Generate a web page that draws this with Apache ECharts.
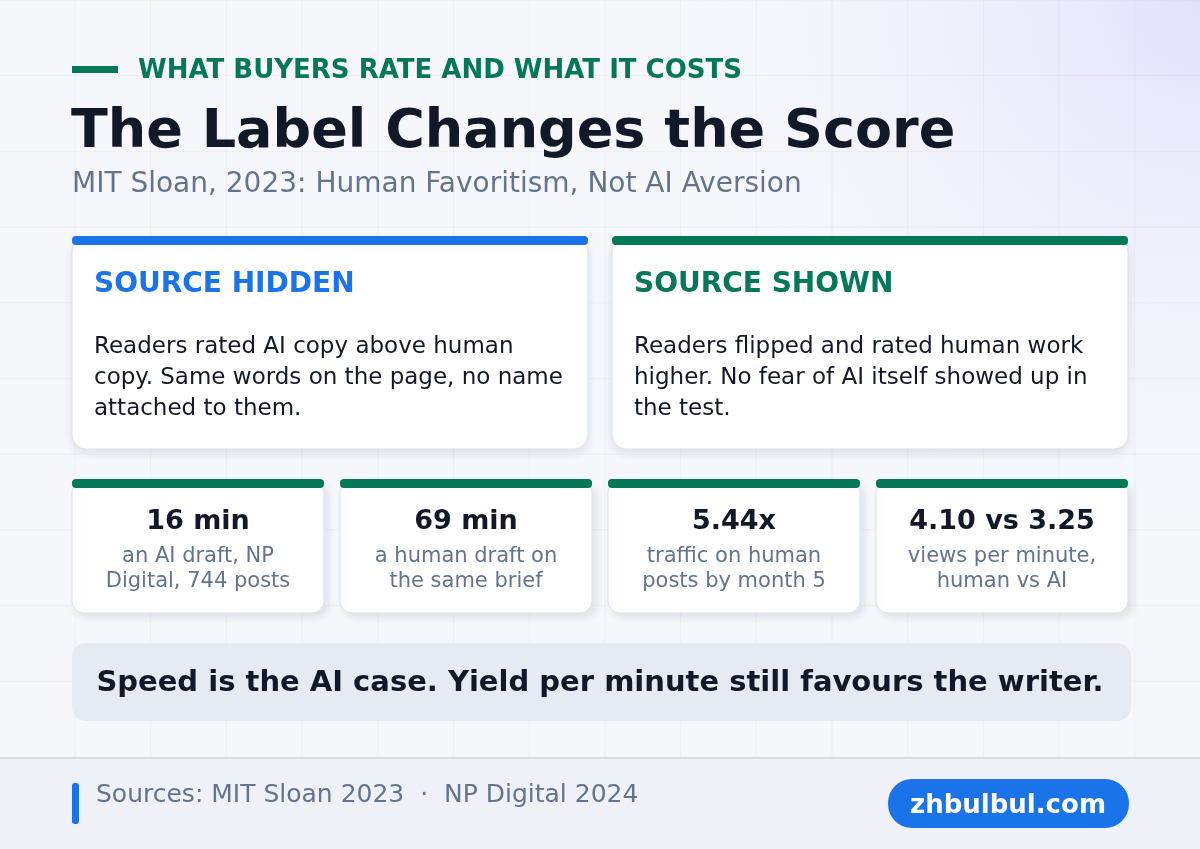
<!DOCTYPE html>
<html><head><meta charset="utf-8">
<script src="https://cdn.jsdelivr.net/npm/echarts@6/dist/echarts.min.js"></script>
<style>html,body{margin:0;padding:0;}#c{width:1200px;height:849px;}</style>
</head><body><div id="c"></div>
<script>
const kicker = "WHAT BUYERS RATE AND WHAT IT COSTS";
const title = "The Label Changes the Score";
const subtitle = "MIT Sloan, 2023: Human Favoritism, Not AI Aversion";
const cardTitles = ["SOURCE HIDDEN", "SOURCE SHOWN"];
const cardBodies = [
  ["Readers rated AI copy above human", "copy. Same words on the page, no name", "attached to them."],
  ["Readers flipped and rated human work", "higher. No fear of AI itself showed up in", "the test."]
];
const statValues = ["16 min", "69 min", "5.44x", "4.10 vs 3.25"];
const statLabels = [
  ["an AI draft, NP", "Digital, 744 posts"],
  ["a human draft on", "the same brief"],
  ["traffic on human", "posts by month 5"],
  ["views per minute,", "human vs AI"]
];
const banner = "Speed is the AI case. Yield per minute still favours the writer.";
const sources = "Sources: MIT Sloan 2023  \u00b7  NP Digital 2024";
const site = "zhbulbul.com";

const F = "DejaVu Sans";
const BLUE = "#1a73e8", GREEN = "#047857", DARK = "#111827", GRAY = "#64748b";
const g = [];
g.push({type:'rect',shape:{x:0,y:0,width:1200,height:849},style:{fill:'#f5f7fb'},z:0});
g.push({type:'rect',shape:{x:0,y:0,width:1200,height:758},style:{fill:new echarts.graphic.RadialGradient(1,0,0.75,[{offset:0,color:'rgba(224,222,252,0.9)'},{offset:1,color:'rgba(245,247,251,0)'}])},z:0});
for(let x=75;x<1200;x+=75.7) g.push({type:'line',shape:{x1:x,y1:0,x2:x,y2:758},style:{stroke:'rgba(100,116,139,0.06)',lineWidth:1},z:1});
for(let y=0;y<758;y+=75.7) g.push({type:'line',shape:{x1:0,y1:y,x2:1200,y2:y},style:{stroke:'rgba(100,116,139,0.06)',lineWidth:1},z:1});
g.push({type:'rect',shape:{x:0,y:758,width:1200,height:91},style:{fill:'#eef2f8'},z:1});
g.push({type:'line',shape:{x1:0,y1:758,x2:1200,y2:758},style:{stroke:'#cfd6e2',lineWidth:1.5},z:2});
g.push({type:'rect',shape:{x:72,y:66,width:46,height:7},style:{fill:GREEN},z:3});
g.push({type:'text',x:138,y:71,style:{text:kicker,font:'bold 26px '+F,fill:GREEN,textVerticalAlign:'middle'},z:3});
g.push({type:'text',x:71,y:133,style:{text:title,font:'bold 54px '+F,fill:DARK,textVerticalAlign:'middle'},z:3});
g.push({type:'text',x:72,y:185,style:{text:subtitle,font:'28px '+F,fill:GRAY,textVerticalAlign:'middle'},z:3});
[[72,BLUE],[612,GREEN]].forEach(([x,col],i)=>{
  g.push({type:'rect',shape:{x:x,y:238,width:516,height:211,r:14},style:{fill:'#fff',stroke:'#dde3ec',lineWidth:1,shadowBlur:10,shadowOffsetY:4,shadowColor:'rgba(30,41,59,0.10)'},z:3});
  g.push({type:'rect',shape:{x:x,y:236,width:516,height:9,r:4},style:{fill:col},z:4});
  g.push({type:'text',x:x+22,y:285,style:{text:cardTitles[i],font:'bold 28px '+F,fill:col,textVerticalAlign:'middle'},z:4});
  cardBodies[i].forEach((l,j)=>g.push({type:'text',x:x+22,y:347+j*31,style:{text:l,font:'23px '+F,fill:DARK,textVerticalAlign:'middle'},z:4}));
});
statValues.forEach((v,i)=>{
  const x=72+i*268, w=252, cx=x+w/2;
  g.push({type:'rect',shape:{x:x,y:481,width:w,height:132,r:12},style:{fill:'#fff',stroke:'#dde3ec',lineWidth:1,shadowBlur:8,shadowOffsetX:4,shadowOffsetY:4,shadowColor:'rgba(30,41,59,0.10)'},z:3});
  g.push({type:'rect',shape:{x:x,y:479,width:w,height:9,r:4},style:{fill:GREEN},z:4});
  g.push({type:'text',x:cx,y:522,style:{text:v,font:'bold 27px '+F,fill:DARK,align:'center',textVerticalAlign:'middle'},z:4});
  statLabels[i].forEach((l,j)=>g.push({type:'text',x:cx,y:557+j*25,style:{text:l,font:'21px '+F,fill:GRAY,align:'center',textVerticalAlign:'middle'},z:4}));
});
g.push({type:'rect',shape:{x:72,y:643,width:1059,height:78,r:14},style:{fill:'#e6ebf3'},z:3});
g.push({type:'text',x:600,y:683,style:{text:banner,font:'bold 29px '+F,fill:DARK,align:'center',textVerticalAlign:'middle'},z:4});
g.push({type:'rect',shape:{x:72,y:783,width:7,height:41,r:3},style:{fill:BLUE},z:3});
g.push({type:'text',x:96,y:795,style:{text:sources,font:'25px '+F,fill:GRAY,textVerticalAlign:'middle'},z:3});
g.push({type:'rect',shape:{x:888,y:779,width:241,height:49,r:24},style:{fill:BLUE},z:3});
g.push({type:'text',x:1008,y:806,style:{text:site,font:'bold 26px '+F,fill:'#fff',align:'center',textVerticalAlign:'middle'},z:4});

const chart = echarts.init(document.getElementById('c'),null,{renderer:'canvas'});
chart.setOption({animation:false,graphic:{elements:g}});
</script></body></html>
